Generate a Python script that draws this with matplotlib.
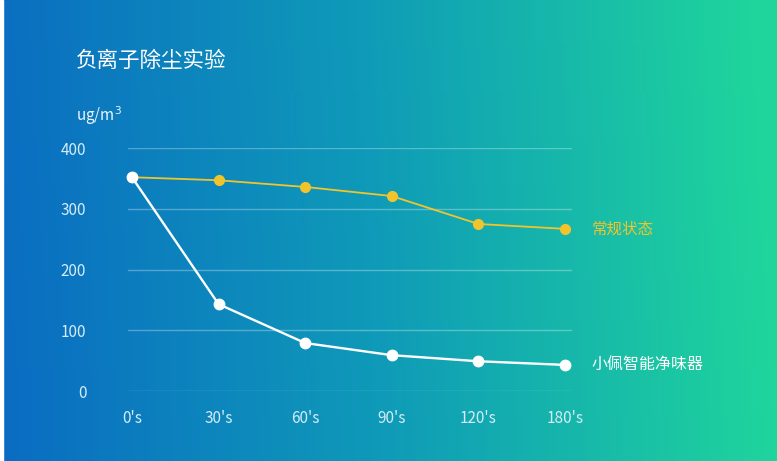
import matplotlib.pyplot as plt
import numpy as np
from matplotlib.colors import LinearSegmentedColormap

plt.rcParams['font.family'] = ['Noto Sans CJK SC', 'DejaVu Sans']

# data
times = ["0's", "30's", "60's", "90's", "120's", "180's"]
normal = [352, 347, 336, 321, 275, 267]
purifier = [352, 143, 79, 59, 49, 43]
y_ticks = [0, 100, 200, 300, 400]

fig = plt.figure(figsize=(7.77, 4.61), dpi=100)

# gradient background
bg = fig.add_axes([0, 0, 1, 1], zorder=-10)
cmap = LinearSegmentedColormap.from_list('bg', ['#0a6cc2', '#0f9bb8', '#1fd59c'])
grad = np.linspace(0, 1, 256).reshape(1, -1)
grad = np.vstack([grad + 0.03 * (1 - i / 9) for i in range(10)])
bg.imshow(grad, aspect='auto', cmap=cmap, extent=[0, 1, 0, 1], vmin=0, vmax=1)
bg.axvspan(0, 0.004, color='white')
bg.set_xlim(0, 1)
bg.set_ylim(0, 1)
bg.axis('off')

ax = fig.add_axes([0.1647, 0.1518, 0.5714, 0.527])
ax.patch.set_alpha(0)
x = np.arange(len(times))

ax.plot(x, normal, color='#f2c42c', lw=1.3, marker='o', ms=7, clip_on=False, zorder=3)
ax.plot(x, purifier, color='white', lw=1.7, marker='o', ms=7.5, clip_on=False, zorder=4)

ax.set_xlim(-0.046, 5.08)
ax.set_ylim(0, 400)
ax.set_yticks(y_ticks)
ax.set_xticks(x)
ax.set_xticklabels(times)
ax.tick_params(length=0, colors='#d4ecf6', labelsize=11)
ax.tick_params(axis='y', pad=30)
ax.tick_params(axis='x', pad=14)
ax.grid(axis='y', color='white', alpha=0.3, lw=1)
for s in ax.spines.values():
    s.set_visible(False)

fig.text(0.098, 0.867, '负离子除尘实验', color='white', fontsize=15.5, va='center')
fig.text(0.098, 0.75, 'ug/m$^3$', color='#e8f4fa', fontsize=11, va='center')
ax.text(5.31, normal[-1], '常规状态', color='#f2c42c', fontsize=11.2, va='center')
ax.text(5.31, purifier[-1], '小佩智能净味器', color='white', fontsize=11.5, va='center')

fig.savefig('out.png', dpi=100)
